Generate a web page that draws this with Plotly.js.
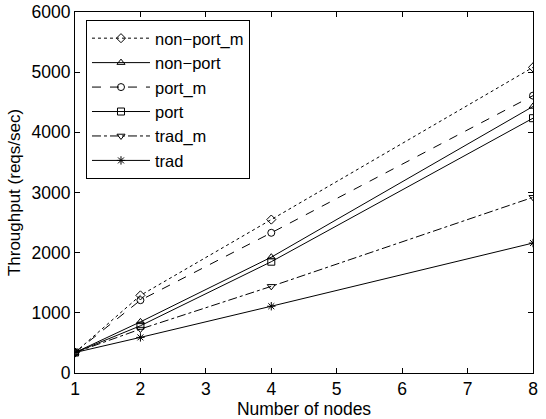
<!DOCTYPE html>
<html><head><meta charset="utf-8">
<script src="https://cdn.plot.ly/plotly-3.0.1.min.js"></script>
<style>html,body{margin:0;padding:0;background:#fff}#chart{width:546px;height:419px}</style>
</head><body><div id="chart"></div>
<script>
const nodes = [1, 2, 4, 8];
const nonPortM = [340, 1290, 2550, 5080];
const nonPort  = [340, 850, 1925, 4430];
const portM    = [340, 1210, 2330, 4610];
const port     = [340, 785, 1850, 4235];
const tradM    = [340, 730, 1440, 2920];
const trad     = [340, 592, 1110, 2160];
const names = ['non\u2212port_m', 'non\u2212port', 'port_m', 'port', 'trad_m', 'trad'];
const series = [nonPortM, nonPort, portM, port, tradM, trad];
const symbols = ['diamond-open', 'triangle-up-open', 'circle-open', 'square-open', 'triangle-down-open', 'asterisk-open'];
const dashes = ['dot', 'solid', 'dash', 'solid', 'dashdot', 'solid'];
const yTicks = [0, 1000, 2000, 3000, 4000, 5000, 6000];
const xTicks = [1, 2, 3, 4, 5, 6, 7, 8];

const traces = series.map((ys, i) => ({
  x: nodes, y: ys, name: names[i], type: 'scatter', mode: 'lines+markers',
  line: {color: '#000', width: 1, dash: dashes[i]},
  marker: {symbol: symbols[i], size: 7, color: '#000', line: {color: '#000', width: 1}}
}));

const FONT = 'Liberation Sans, Arial, sans-serif';
const axisCommon = {
  showgrid: false, zeroline: false, showline: true, mirror: 'ticks',
  linecolor: '#000', linewidth: 1, ticks: 'inside', ticklen: 5, tickcolor: '#000',
  tickfont: {family: FONT, size: 17.5, color: '#000'}, tickmode: 'array'
};

const layout = {
  width: 546, height: 419,
  margin: {l: 75, r: 13, t: 12, b: 46},
  paper_bgcolor: '#fff', plot_bgcolor: '#fff',
  font: {family: FONT, color: '#000'},
  xaxis: Object.assign({}, axisCommon, {
    range: [1, 8], tickvals: xTicks, ticktext: xTicks.map(String),
    title: {text: 'Number of nodes', font: {size: 17.5}, standoff: 0}
  }),
  yaxis: Object.assign({}, axisCommon, {
    range: [0, 6000], tickvals: yTicks, ticktext: yTicks.map(String),
    title: {text: 'Throughput (reqs/sec)', font: {size: 17}, standoff: 6}
  }),
  legend: {
    x: 0.024, y: 0.978, xanchor: 'left', yanchor: 'top',
    bgcolor: '#fff', bordercolor: '#000', borderwidth: 1,
    font: {size: 16.5, family: FONT},
    itemwidth: 58, tracegroupgap: 0
  },
  showlegend: true
};

Plotly.newPlot('chart', traces, layout, {displayModeBar: false, staticPlot: true});
</script></body></html>
